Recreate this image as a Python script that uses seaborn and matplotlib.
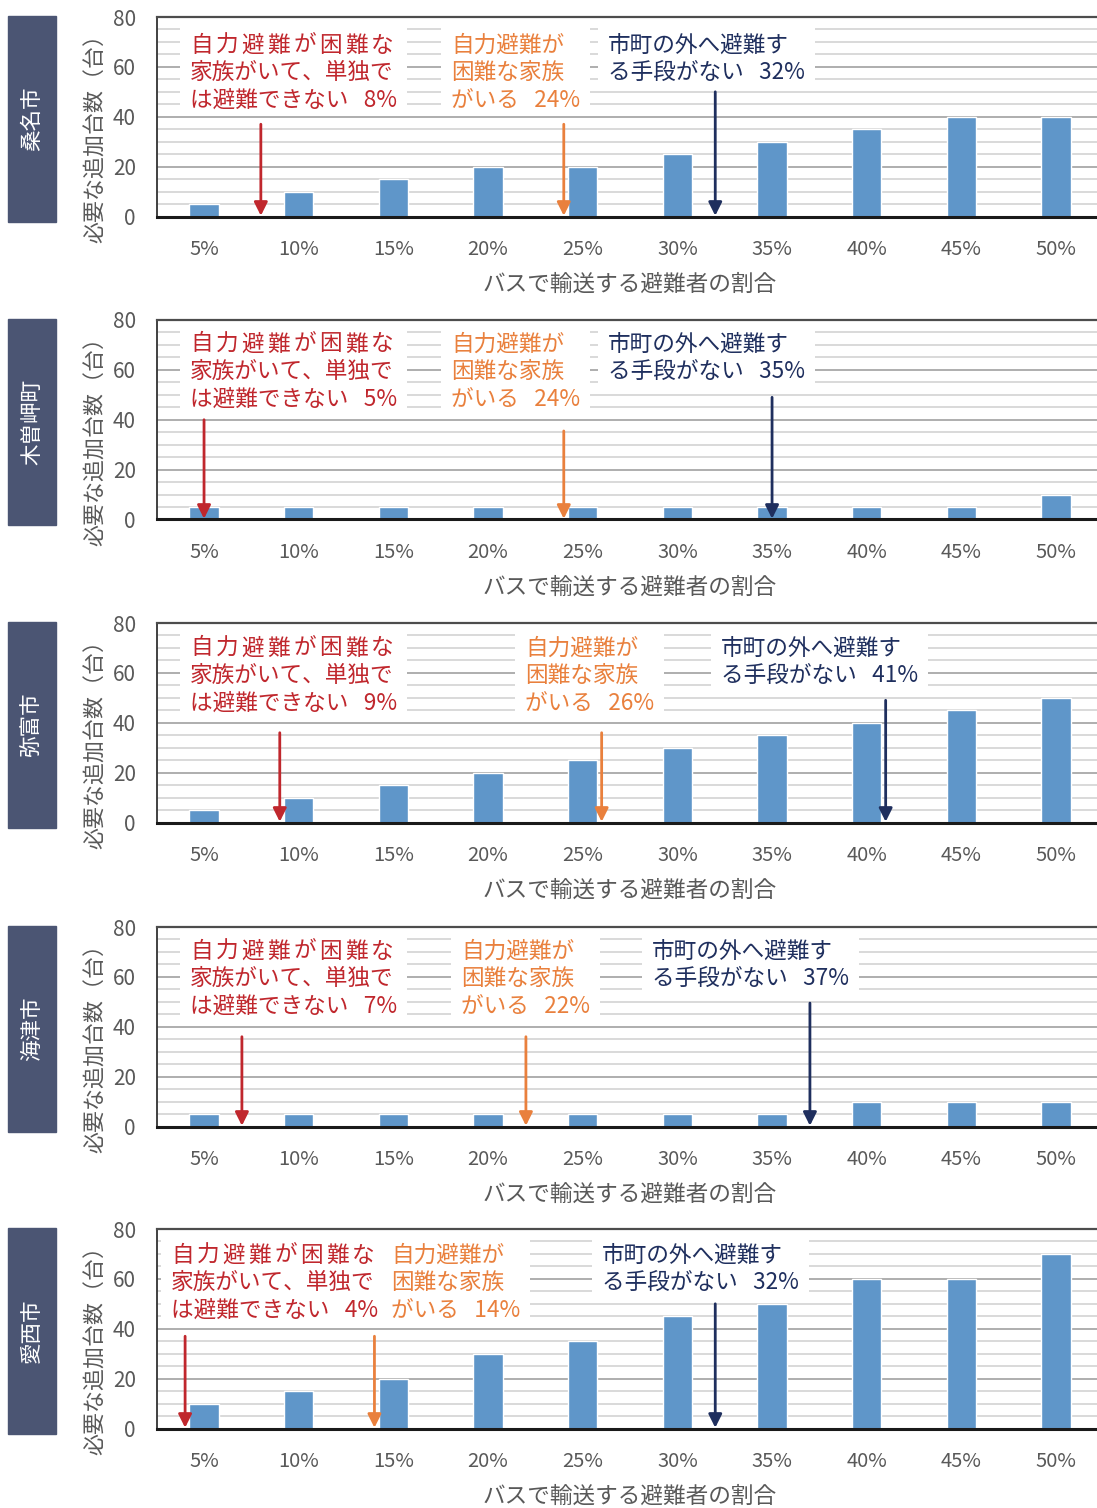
import matplotlib
matplotlib.use("Agg")
import matplotlib.pyplot as plt
from matplotlib.patches import Rectangle
from matplotlib.ticker import MultipleLocator
import numpy as np
import pandas as pd
import seaborn as sns

# ---- data -------------------------------------------------------------
ratios = ["5%", "10%", "15%", "20%", "25%", "30%", "35%", "40%", "45%", "50%"]
ratio_values = [5, 10, 15, 20, 25, 30, 35, 40, 45, 50]

towns = ["桑名市", "木曽岬町", "弥富市", "海津市", "愛西市"]

buses_kuwana = [5, 10, 15, 20, 20, 25, 30, 35, 40, 40]
buses_kisosaki = [5, 5, 5, 5, 5, 5, 5, 5, 5, 10]
buses_yatomi = [5, 10, 15, 20, 25, 30, 35, 40, 45, 50]
buses_kaizu = [5, 5, 5, 5, 5, 5, 5, 10, 10, 10]
buses_aisai = [10, 15, 20, 30, 35, 45, 50, 60, 60, 70]
bus_series = [buses_kuwana, buses_kisosaki, buses_yatomi, buses_kaizu, buses_aisai]

# share of residents in each situation (%)
share_alone = [8, 5, 9, 7, 4]          # cannot evacuate alone
share_family = [24, 24, 26, 22, 14]    # family member needing help
share_no_means = [32, 35, 41, 37, 32]  # no means to leave the town

y_ticks = [0, 20, 40, 60, 80]
y_label = "必要な追加台数（台）"
x_label = "バスで輸送する避難者の割合"

# ---- style / layout ----------------------------------------------------
sns.set_theme(style="white")
plt.rcParams["font.family"] = ["Noto Sans CJK JP", "DejaVu Sans"]

W, H = 1097, 1508
DPI = 100
BAR_COLOR = "#5F96C9"
SIDE_COLOR = "#4B5573"
TICK_COLOR = "#595959"
RED = "#C0272D"
ORANGE = "#E9803D"
NAVY = "#1F2F5E"
TXT_SIZE = 16.3
GAP = "   "

panel_tops = [17, 320, 623, 927, 1229]
PANEL_H = 199.5
AX_LEFT = 156.7
CAT_STEP = 94.67
AX_W = CAT_STEP * 10
PX_PER_UNIT = PANEL_H / 80

# text blocks: left pixel, per panel
red_left = [190, 190, 190, 190, 171]
orange_left = [451, 451, 525, 461, 391]
navy_left = [608, 608, 721, 652, 602]
first_line_off = [28, 24, 25, 24, 26]
LINE_STEP_PX = 27.8

# arrow start heights (axis units)
arrow_tops = [(37, 37, 50), (40, 35.5, 49), (36, 36, 49), (36, 36, 49.5), (37, 37, 50)]

fig = plt.figure(figsize=(W / DPI, H / DPI), dpi=DPI)
fig.patch.set_facecolor("white")


def px_to_x(px):
    return (px - AX_LEFT) / CAT_STEP - 0.5


def pct_to_x(p):
    return (p - 5) / 5.0


blocks = []
for i, town in enumerate(towns):
    top = panel_tops[i]
    ax = fig.add_axes([AX_LEFT / W, 1 - (top + PANEL_H) / H, AX_W / W, PANEL_H / H])
    df = pd.DataFrame({"ratio": ratios, "buses": bus_series[i]})
    sns.barplot(data=df, x="ratio", y="buses", order=ratios, color=BAR_COLOR,
                saturation=1, width=0.31, ax=ax, zorder=2)
    ax.set_xlim(-0.5, 9.5)
    ax.set_ylim(0, 80)
    ax.set_yticks(y_ticks)
    ax.yaxis.set_minor_locator(MultipleLocator(5))
    ax.set_axisbelow(True)
    ax.grid(which="major", axis="y", color="#A8A8A8", lw=1.3, zorder=0)
    ax.grid(which="minor", axis="y", color="#D3D3D3", lw=1.2, zorder=0)
    ax.tick_params(axis="both", which="both", length=0)
    ax.tick_params(axis="y", labelsize=15, labelcolor=TICK_COLOR, pad=15)
    ax.tick_params(axis="x", labelsize=14.5, labelcolor=TICK_COLOR, pad=16)
    ax.spines["right"].set_visible(False)
    ax.spines["top"].set_color("#4D4D4D")
    ax.spines["top"].set_linewidth(1.6)
    ax.spines["left"].set_color("#333333")
    ax.spines["left"].set_linewidth(1.3)
    ax.spines["bottom"].set_color("#1A1A1A")
    ax.spines["bottom"].set_linewidth(2.2)
    for s in ax.spines.values():
        s.set_zorder(6)

    ax.set_ylabel(y_label, fontsize=15.8, color=TICK_COLOR)
    ax.yaxis.set_label_coords(-0.053, 0.42)
    ax.set_xlabel(x_label, fontsize=16.3, color=TICK_COLOR)
    ax.xaxis.set_label_coords(0.5, -0.282)

    # town name tab on the left
    fig.add_artist(Rectangle((8 / W, 1 - (top + 205) / H), 48 / W, 206 / H,
                             transform=fig.transFigure, color=SIDE_COLOR, zorder=1))
    fig.text(32 / W, 1 - (top + 102) / H, town, rotation=90, color="white",
             fontsize=15.5, ha="center", va="center")

    # annotation text blocks
    y0 = 80 - first_line_off[i] / PX_PER_UNIT
    step = LINE_STEP_PX / PX_PER_UNIT
    specs = [
        (red_left[i], RED, ["自力避難が困難な", "家族がいて、単独で",
                             f"は避難できない{GAP}{share_alone[i]}%"], True),
        (orange_left[i], ORANGE, ["自力避難が", "困難な家族",
                                   f"がいる{GAP}{share_family[i]}%"], False),
        (navy_left[i], NAVY, ["市町の外へ避難す",
                               f"る手段がない{GAP}{share_no_means[i]}%"], False),
    ]
    for left_px, color, lines, justify in specs:
        texts = []
        for k, line in enumerate(lines):
            t = ax.text(px_to_x(left_px), y0 - k * step, line, color=color,
                        fontsize=TXT_SIZE, ha="left", va="center", zorder=5)
            texts.append(t)
        blocks.append((ax, color, lines, texts, justify, y0, step))

    # arrows pointing at each share on the x scale
    for share, color, ytop in zip((share_alone[i], share_family[i], share_no_means[i]),
                                  (RED, ORANGE, NAVY), arrow_tops[i]):
        xp = pct_to_x(share)
        ax.annotate("", xy=(xp, 0.3), xytext=(xp, ytop),
                    arrowprops=dict(arrowstyle="-|>", color=color, lw=2,
                                    mutation_scale=20, shrinkA=0, shrinkB=0),
                    zorder=7)

# justify first line of the red blocks and add white backing boxes
fig.canvas.draw()
renderer = fig.canvas.get_renderer()
for ax, color, lines, texts, justify, y0, step in blocks:
    inv = ax.transData.inverted()
    if justify:
        target = texts[1].get_window_extent(renderer)
        first = texts[0]
        x_disp0 = first.get_window_extent(renderer).x0
        first.remove()
        chars = [ax.text(0, y0, c, color=color, fontsize=TXT_SIZE, ha="left",
                         va="center", zorder=5) for c in lines[0]]
        widths = [c.get_window_extent(renderer).width for c in chars]
        gap = (target.width - sum(widths)) / (len(chars) - 1)
        xd = x_disp0
        ydisp = ax.transData.transform((0, y0))[1]
        for c, w in zip(chars, widths):
            c.set_x(inv.transform((xd, ydisp))[0])
            xd += w + gap
        texts = chars + texts[1:]
    exts = [t.get_window_extent(renderer) for t in texts]
    x0 = min(e.x0 for e in exts) - 10
    x1 = max(e.x1 for e in exts) + 10
    y_top_center = ax.transData.transform((0, y0))[1]
    y_bot_center = ax.transData.transform((0, y0 - (len(lines) - 1) * step))[1]
    ytop = y_top_center + 19
    ybot = y_bot_center - 12
    (dx0, dy0) = inv.transform((x0, ybot))
    (dx1, dy1) = inv.transform((x1, ytop))
    ax.add_patch(Rectangle((dx0, dy0), dx1 - dx0, dy1 - dy0, facecolor="white",
                           edgecolor="none", zorder=4))

fig.savefig("out.png", dpi=DPI, facecolor="white")
